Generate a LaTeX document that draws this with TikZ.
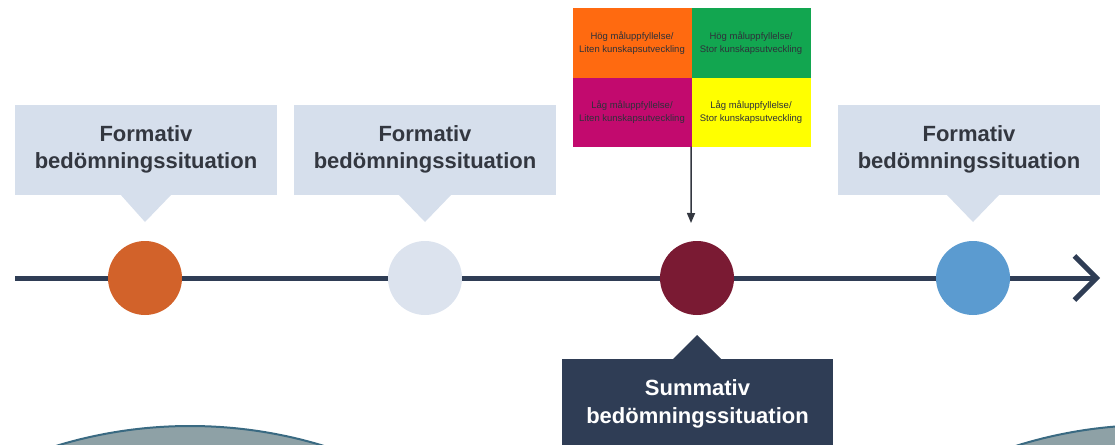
\documentclass[tikz,border=0pt]{standalone}
\usepackage{fontspec}
\setmainfont{Liberation Sans}
\usetikzlibrary{arrows.meta}
\definecolor{calloutfill}{HTML}{D6DFEC}
\definecolor{calltext}{HTML}{333740}
\definecolor{navy}{HTML}{2F3D55}
\definecolor{corange}{HTML}{D2622A}
\definecolor{clight}{HTML}{DCE3EE}
\definecolor{cred}{HTML}{7A1A33}
\definecolor{cblue}{HTML}{5B9BD0}
\definecolor{qtl}{HTML}{FF6A10}
\definecolor{qtr}{HTML}{12A650}
\definecolor{qbl}{HTML}{C20A6E}
\definecolor{qbr}{HTML}{FFFF00}
\definecolor{blobfill}{HTML}{8EA1A6}
\definecolor{blobline}{HTML}{3A6A82}
\tikzset{
  fbox/.style={rectangle, fill=calloutfill, minimum width=262pt, minimum height=90pt,
    align=center, text=calltext, font=\fontsize{22}{27}\selectfont\bfseries, inner sep=0pt},
  sbox/.style={rectangle, fill=navy, minimum width=271pt, minimum height=90pt,
    align=center, text=white, font=\fontsize{22}{28}\selectfont\bfseries, inner sep=0pt},
  dot/.style={circle, minimum size=74pt, inner sep=0pt},
  quad/.style={rectangle, minimum width=119pt, minimum height=69pt, inner sep=0pt,
    align=center, text=calltext!90!black, font=\fontsize{9.5}{13}\selectfont},
  timeline/.style={navy, line width=5pt, -{Straight Barb[length=22pt,width=44pt,line width=5pt]}},
  pointer/.style={calltext, line width=1.5pt, -{Triangle[length=10pt,width=8pt]}},
  blob/.style={fill=blobfill, draw=blobline, line width=2pt}
}
\begin{document}
\begin{tikzpicture}[x=1pt,y=-1pt]
\useasboundingbox (0,0) rectangle (1115,444);
% bottom shapes
\begin{scope}
\clip (0,0) rectangle (1115,444);
\draw[blob] (190,883) circle (457);
\draw[blob] (1153,882) circle (457);
\end{scope}
% timeline
\coordinate (ls) at (15,278);
\coordinate (le) at (1100,278);
\draw[timeline] (ls) -- (le);
% circles
\node[dot, fill=corange] (c1) at (145,278) {};
\node[dot, fill=clight] (c2) at (425,278) {};
\node[dot, fill=cred] (c3) at (697,278) {};
\node[dot, fill=cblue] (c4) at (973,278) {};
% formative callouts
\node[fbox] (f1) at (146,149.5) {Formativ\\bedömningssituation};
\node[fbox] (f2) at (425,149.5) {Formativ\\bedömningssituation};
\node[fbox] (f3) at (969,149.5) {Formativ\\bedömningssituation};
\fill[calloutfill] (120,194) -- (172,194) -- (145,222) -- cycle;
\fill[calloutfill] (398,194) -- (452,194) -- (425,222) -- cycle;
\fill[calloutfill] (946,194) -- (1000,194) -- (973,222) -- cycle;
% summative callout
\node[sbox] (s1) at (697.5,403.5) {Summativ\\bedömningssituation};
\fill[navy] (672,360) -- (722,360) -- (697,335) -- cycle;
% quadrant
\node[quad, fill=qtl] (q1) at (632,43) {Hög måluppfyllelse/\\Liten kunskapsutveckling};
\node[quad, fill=qtr] (q2) at (751,43) {Hög måluppfyllelse/\\Stor kunskapsutveckling};
\node[quad, fill=qbl] (q3) at (632,112) {Låg måluppfyllelse/\\Liten kunskapsutveckling};
\node[quad, fill=qbr] (q4) at (751,112) {Låg måluppfyllelse/\\Stor kunskapsutveckling};
\coordinate (at) at (691,223);
\draw[pointer] (q3.south east) ++(-0.5,0) coordinate (as) (as) -- (at);
\end{tikzpicture}
\end{document}
